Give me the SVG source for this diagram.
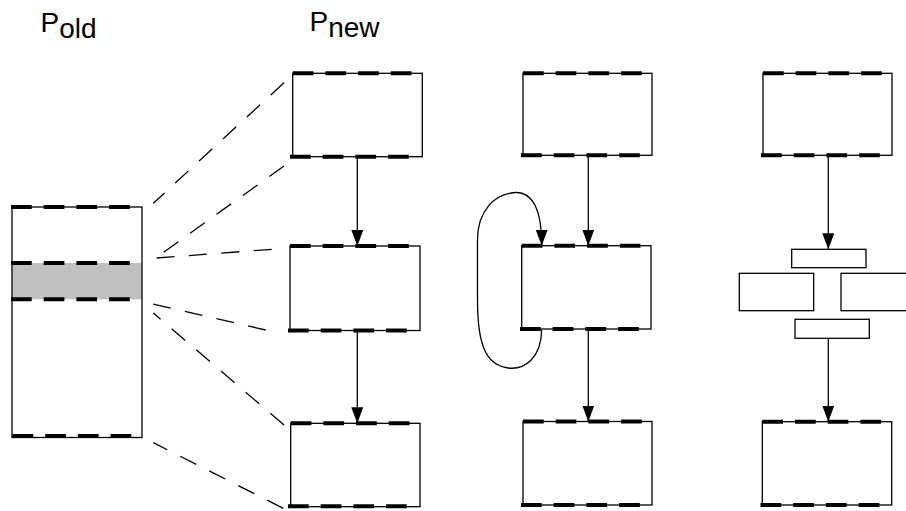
<svg xmlns="http://www.w3.org/2000/svg" width="906" height="511" viewBox="0 0 906 511">
<style>
.box{fill:none;stroke:#000;stroke-width:1.3}
.wbox{fill:#fff;stroke:#000;stroke-width:1.3}
.td{fill:none;stroke:#000;stroke-width:4;stroke-dasharray:20.7 12}
.dl{fill:none;stroke:#000;stroke-width:1.3;stroke-dasharray:18 14.5}
.ar{fill:none;stroke:#000;stroke-width:1.3;marker-end:url(#ah)}
.lbl{font-family:"Liberation Sans",Arial,sans-serif;font-size:28px;fill:#000}
</style>
<defs>
<marker id="ah" markerWidth="16" markerHeight="12" refX="16" refY="6" orient="auto" markerUnits="userSpaceOnUse" viewBox="0 0 16 12">
<path d="M0,0 L16,6 L0,12 z" fill="#000"/>
</marker>
</defs>
<rect width="906" height="511" fill="#fff"/>

<text class="lbl" x="40.5" y="31.7">P<tspan dy="6.7">old</tspan></text>
<text class="lbl" x="309.5" y="30.7">P<tspan dy="6">new</tspan></text>

<g id="pold">
<rect x="12" y="263" width="130" height="36.3" fill="#c0c0c0"/>
<rect class="box" x="12" y="207" width="130" height="230.5"/>
<line class="td" x1="11" y1="207" x2="130" y2="207"/>
<line class="td" x1="11" y1="263" x2="130" y2="263"/>
<line class="td" x1="11" y1="299.3" x2="130" y2="299.3"/>
<line class="td" x1="12.5" y1="436" x2="132.5" y2="436"/>
</g>

<g id="new1">
<rect class="box" x="292.7" y="73.3" width="129.6" height="83.4"/>
<line class="td" x1="292.7" y1="73.3" x2="412" y2="73.3"/>
<line class="td" x1="290" y1="156.7" x2="409" y2="156.7"/>
</g>
<g id="new2">
<rect class="box" x="290" y="246" width="130" height="84.5"/>
<line class="td" x1="290" y1="246" x2="409" y2="246"/>
<line class="td" x1="288" y1="330.5" x2="407" y2="330.5"/>
</g>
<g id="new3">
<rect class="box" x="290.7" y="423.3" width="129.3" height="83.4"/>
<line class="td" x1="290.7" y1="423.3" x2="410" y2="423.3"/>
<line class="td" x1="288" y1="506.2" x2="407" y2="506.2"/>
</g>

<g id="mid1">
<rect class="box" x="523" y="73.3" width="129" height="82"/>
<line class="td" x1="523" y1="73.3" x2="642" y2="73.3"/>
<line class="td" x1="521" y1="155.3" x2="640" y2="155.3"/>
</g>
<g id="mid2">
<rect class="box" x="521.7" y="245.7" width="129.3" height="83.3"/>
<line class="td" x1="521.7" y1="245.7" x2="641" y2="245.7"/>
<line class="td" x1="520" y1="329" x2="639" y2="329"/>
</g>
<g id="mid3">
<rect class="box" x="523" y="421.5" width="129" height="83.5"/>
<line class="td" x1="523" y1="421.5" x2="642" y2="421.5"/>
<line class="td" x1="521" y1="505" x2="640" y2="505"/>
</g>

<g id="right1">
<rect class="box" x="763" y="73.3" width="129" height="82"/>
<line class="td" x1="763" y1="73.3" x2="882" y2="73.3"/>
<line class="td" x1="761" y1="155.3" x2="880" y2="155.3"/>
</g>
<g id="split">
<rect class="wbox" x="791.7" y="249.3" width="74.3" height="18.4"/>
<rect class="wbox" x="739.3" y="273.3" width="74.4" height="37.4"/>
<rect class="wbox" x="841" y="273.3" width="80" height="37.4"/>
<rect class="wbox" x="795" y="319.3" width="74.3" height="19"/>
</g>
<g id="right3">
<rect class="box" x="762.3" y="421.7" width="129.4" height="83.3"/>
<line class="td" x1="762.3" y1="421.7" x2="881.5" y2="421.7"/>
<line class="td" x1="760.5" y1="505" x2="879.5" y2="505"/>
</g>

<g id="connectors">
<line class="dl" x1="284" y1="82.7" x2="153.3" y2="203.3"/>
<line class="dl" x1="284" y1="166" x2="157" y2="257"/>
<line class="dl" x1="271.7" y1="249.3" x2="156.7" y2="258"/>
<line class="dl" x1="265.7" y1="330" x2="152.7" y2="304"/>
<line class="dl" x1="284" y1="425" x2="153.3" y2="313"/>
<line class="dl" x1="283.3" y1="508.3" x2="153.3" y2="442.7"/>

<line class="ar" x1="357.3" y1="157" x2="357.3" y2="246"/>
<line class="ar" x1="357.3" y1="331" x2="357.3" y2="423.3"/>
<line class="ar" x1="588.3" y1="155.5" x2="588.3" y2="245.7"/>
<line class="ar" x1="588.3" y1="329" x2="588.3" y2="421.5"/>
<path class="ar" d="M541.7,330 C541,358 525,370 508,368 C486,365 477.5,345 477.5,300 L477.5,240 C477.5,210 495,194 515,192.5 C533,192 541.7,210 541.7,245.7"/>
<line class="ar" x1="828.3" y1="155.5" x2="828.3" y2="249.3"/>
<line class="ar" x1="828.3" y1="338.3" x2="828.3" y2="421.7"/>
</g>
</svg>
